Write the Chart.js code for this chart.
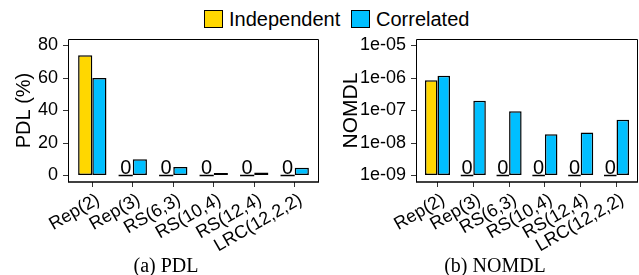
<!DOCTYPE html>
<html><head><meta charset="utf-8">
<script src="https://cdn.jsdelivr.net/npm/chart.js@4/dist/chart.umd.min.js"></script>
<style>
html,body{margin:0;padding:0;background:#fff;width:639px;height:275px;overflow:hidden;font-family:"Liberation Sans",Arial,sans-serif;}
.sw{position:absolute;top:10px;width:19px;height:18px;border:1.5px solid #000;box-sizing:border-box}
.lt{position:absolute;top:8px;font-size:20px;line-height:22px;color:#000;white-space:nowrap}
.cap{position:absolute;top:255px;font-family:"Liberation Serif","Times New Roman",serif;font-size:20px;line-height:20px;color:#000;transform:translateX(-50%);white-space:nowrap}
canvas{position:absolute;top:0}
</style></head>
<body>
<div id="legend"></div>
<canvas id="c1" width="320" height="275" style="left:0"></canvas>
<canvas id="c2" width="319" height="275" style="left:320px"></canvas>
<div class="cap" style="left:166px">(a) PDL</div>
<div class="cap" style="left:495px">(b) NOMDL</div>
<script>
const categories = ["Rep(2)","Rep(3)","RS(6,3)","RS(10,4)","RS(12,4)","LRC(12,2,2)"];
const seriesNames = ["Independent","Correlated"];
const seriesColors = ["#FFD700","#00BFFF"];
const pdlIndependent = [74,0,0,0,0,0];
const pdlCorrelated = [60,10,5.3,1.6,1.8,4.7];
const nomdlIndependent = [8.5e-7,0,0,0,0,0];
const nomdlCorrelated = [1.18e-6,2.0e-7,9.5e-8,1.87e-8,2.1e-8,5.2e-8];
const pdlTicks = [0,20,40,60,80];
const pdlTickLabels = ["0","20","40","60","80"];
const nomdlTicks = [1e-9,1e-8,1e-7,1e-6,1e-5];
const nomdlTickLabels = ["1e-09","1e-08","1e-07","1e-06","1e-05"];

// legend (HTML)
const legendPos = [{sw:204,tx:229},{sw:351,tx:376}];
const lg = document.getElementById('legend');
seriesNames.forEach((n,i)=>{
  const s = document.createElement('div'); s.className='sw'; s.style.left=legendPos[i].sw+'px'; s.style.background=seriesColors[i]; lg.appendChild(s);
  const t = document.createElement('div'); t.className='lt'; t.style.left=legendPos[i].tx+'px'; t.textContent=n; lg.appendChild(t);
});

const FONT = '"Liberation Sans", Arial, sans-serif';

const framePlugin = {
  id:'frame',
  afterDraw(chart){
    const {ctx, chartArea:a} = chart;
    ctx.save();
    ctx.strokeStyle='#000';
    ctx.lineWidth=1;
    ctx.beginPath();
    ctx.moveTo(Math.round(a.left)+0.5, Math.round(a.bottom));
    ctx.lineTo(Math.round(a.left)+0.5, Math.round(a.top)+0.5);
    ctx.lineTo(Math.round(a.right)-0.5, Math.round(a.top)+0.5);
    ctx.lineTo(Math.round(a.right)-0.5, Math.round(a.bottom));
    ctx.stroke();
    ctx.lineWidth=1.6;
    ctx.beginPath();
    ctx.moveTo(Math.round(a.left), Math.round(a.bottom));
    ctx.lineTo(Math.round(a.right), Math.round(a.bottom));
    ctx.stroke();
    ctx.restore();
  }
};

const zeroPlugin = {
  id:'zeroLabels',
  afterDatasetsDraw(chart){
    const ctx = chart.ctx;
    chart.data.datasets.forEach((ds, di)=>{
      const meta = chart.getDatasetMeta(di);
      meta.data.forEach((el, i)=>{
        if (ds.rawValues[i] !== 0) return;
        const p = el.getProps(['x','y','base','width'], true);
        ctx.save();
        ctx.strokeStyle='#000';
        ctx.lineWidth=1.5;
        ctx.beginPath();
        ctx.moveTo(p.x - p.width/2, p.y);
        ctx.lineTo(p.x + p.width/2, p.y);
        ctx.stroke();
        ctx.fillStyle='#000';
        ctx.font = '20px ' + FONT;
        ctx.textAlign='center';
        ctx.textBaseline='alphabetic';
        ctx.fillText('0', p.x, p.y - 1.5);
        ctx.restore();
      });
    });
  }
};

function makeChart(id, opts){
  const toPts = (vals, floor) => vals.map((v,i)=>({x:i, y:(v===0 && floor!==undefined) ? floor : v}));
  const datasets = opts.series.map((vals, k)=>({
    label: seriesNames[k],
    data: toPts(vals, opts.floor),
    rawValues: vals,
    backgroundColor: seriesColors[k],
    borderColor:'#000',
    borderWidth:1.5,
    borderSkipped:false,
    categoryPercentage:0.7,
    barPercentage:1.0,
    base: opts.floor
  }));
  return new Chart(document.getElementById(id), {
    type:'bar',
    data:{datasets},
    plugins:[zeroPlugin, framePlugin],
    options:{
      responsive:false, animation:false, devicePixelRatio:1,
      layout:{padding:{top:39,left:0,right:opts.padRight,bottom:0}},
      plugins:{legend:{display:false}, tooltip:{enabled:false}},
      scales:{
        x:{
          type:'linear', min:-0.6, max:5.6, offset:false, bounds:'data',
          afterBuildTicks:s=>{ s.ticks = categories.map((c,i)=>({value:i})); },
          afterFit:s=>{ s.height = 93; },
          grid:{display:true, drawOnChartArea:false, drawTicks:true, tickLength:5, color:'#333', offset:false},
          border:{display:false},
          ticks:{autoSkip:false, minRotation:30, maxRotation:30, padding:2, labelOffset:6, color:'#000',
                 font:{family:FONT, size:18},
                 callback:(v,i)=>categories[i]}
        },
        y:{
          type:opts.yType, min:opts.yMin, max:opts.yMax, bounds:'data',
          afterBuildTicks:s=>{ s.ticks = opts.ticks.map(v=>({value:v})); },
          afterFit:s=>{ s.width = opts.yWidth; },
          grid:{display:true, drawOnChartArea:false, drawTicks:true, tickLength:5, color:'#333'},
          border:{display:false},
          ticks:{padding:5, color:'#000', font:{family:FONT, size:18},
                 callback:(v,i)=>opts.tickLabels[i]},
          title:{display:true, text:opts.yTitle, color:'#000', font:{family:FONT, size:opts.titleSize},
                 padding:{top:opts.titlePad, bottom:0}}
        }
      }
    }
  });
}

makeChart('c1', {
  series:[pdlIndependent, pdlCorrelated], yType:'linear', yMin:-4, yMax:84,
  ticks:pdlTicks, tickLabels:pdlTickLabels, yTitle:'PDL (%)', yWidth:68, padRight:1,
  titleSize:20, titlePad:12.8
});
makeChart('c2', {
  series:[nomdlIndependent, nomdlCorrelated], yType:'logarithmic',
  yMin:Math.pow(10,-9.2), yMax:Math.pow(10,-4.8), floor:nomdlTicks[0],
  ticks:nomdlTicks, tickLabels:nomdlTickLabels, yTitle:'NOMDL', yWidth:96, padRight:1,
  titleSize:21, titlePad:18.4
});
</script>
</body></html>
